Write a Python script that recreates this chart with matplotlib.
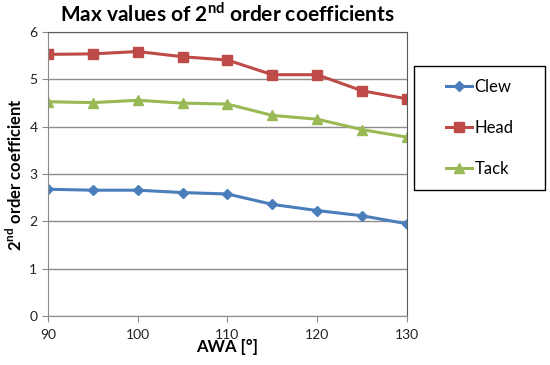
import matplotlib
matplotlib.use("Agg")
import matplotlib.pyplot as plt
from matplotlib.patches import Rectangle

plt.rcParams['font.family'] = ['Lato', 'DejaVu Sans']
plt.rcParams['mathtext.fontset'] = 'custom'
plt.rcParams['mathtext.rm'] = 'Lato'
plt.rcParams['mathtext.bf'] = 'Lato:bold'

awa = [90, 95, 100, 105, 110, 115, 120, 125, 130]
clew = [2.68, 2.66, 2.66, 2.61, 2.58, 2.36, 2.23, 2.12, 1.95]
head = [5.53, 5.54, 5.59, 5.48, 5.41, 5.10, 5.10, 4.76, 4.59]
tack = [4.53, 4.51, 4.56, 4.50, 4.48, 4.24, 4.16, 3.94, 3.78]

fig = plt.figure(figsize=(5.5, 3.65), dpi=100)
ax = fig.add_axes([0.087, 0.134, 0.653, 0.778])

ax.plot(awa, clew, color='#4A7EBB', marker='D', markersize=5, lw=2.2, label='Clew')
ax.plot(awa, head, color='#BE4B48', marker='s', markersize=7, lw=2.2, label='Head')
ax.plot(awa, tack, color='#98B954', marker='^', markersize=7, lw=2.2, label='Tack')

ax.set_xlim(90, 130)
ax.set_ylim(0, 6)
ax.set_xticks([90, 100, 110, 120, 130])
ax.set_yticks(range(7))
ax.yaxis.grid(True, color='#8C8C8C', lw=1)
ax.set_axisbelow(True)
for s in ['left', 'bottom']:
    ax.spines[s].set_color('#8C8C8C')
for s in ['right', 'top']:
    ax.spines[s].set_color('#5A5A5A')
ax.tick_params(axis='both', direction='out', length=4, color='#8C8C8C',
               labelsize=10, labelcolor='#222222')
ax.tick_params(axis='x', pad=5)

ax.set_title('Max values of 2$^{\\mathbf{nd}}$ order coefficients',
             fontsize=15, fontweight='bold', pad=7)
ax.set_xlabel('AWA [°]', fontsize=12, fontweight='bold', labelpad=-1)
ax.set_ylabel('2$^{\\mathbf{nd}}$ order coefficient', fontsize=12,
              fontweight='bold', labelpad=3)

# legend frame drawn separately so the entries sit centred in a wide box
fig.patches.append(Rectangle((0.7527, 0.479), 0.238, 0.340, transform=fig.transFigure,
                             fill=False, edgecolor='black', lw=1.0))
leg = ax.legend(loc='center', bbox_to_anchor=(0.872, 0.649),
                bbox_transform=fig.transFigure, frameon=False,
                fontsize=12, labelspacing=1.5, handlelength=1.6,
                handletextpad=0.15)

fig.savefig('out.png', dpi=100)
